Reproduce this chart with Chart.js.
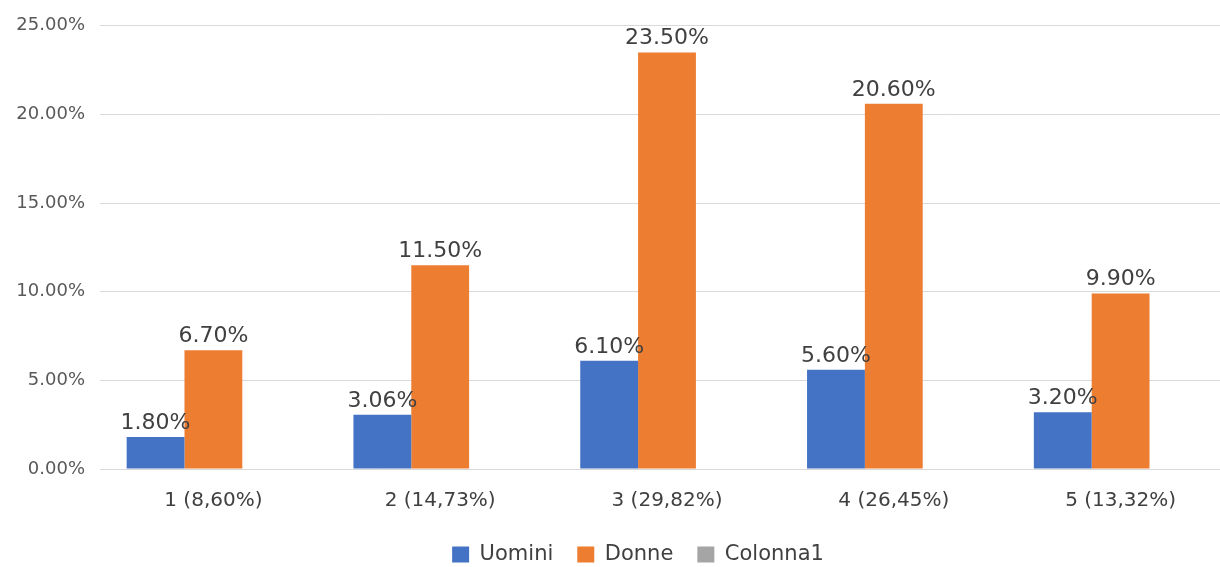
<!DOCTYPE html>
<html lang="it">
<head>
  <meta charset="UTF-8">
  <title>Uomini / Donne</title>
  <script src="https://cdn.jsdelivr.net/npm/chart.js"></script>
  <style>
    html, body { margin: 0; padding: 0; background: #fff; overflow: hidden; }
    #wrap { width: 1220px; height: 567px; overflow: hidden; }
  </style>
</head>
<body>
<div id="wrap"><canvas id="chart" width="1234" height="567"></canvas></div>
<script>
// dati
const categorie = ["1 (8,60%)", "2 (14,73%)", "3 (29,82%)", "4 (26,45%)", "5 (13,32%)"];
const uomini = [0.018, 0.0306, 0.061, 0.056, 0.032];
const donne = [0.067, 0.115, 0.235, 0.206, 0.099];
const colonna1 = [];
const tickValori = [0, 0.05, 0.10, 0.15, 0.20, 0.25];

const fmt = v => (v * 100).toFixed(2) + "%";
const FONT = "'DejaVu Sans', sans-serif";

// etichette sopra le barre
const etichette = {
  id: "etichette",
  afterDatasetsDraw(chart) {
    const ctx = chart.ctx;
    ctx.save();
    ctx.font = "22px " + FONT;
    ctx.fillStyle = "#404040";
    ctx.textAlign = "center";
    ctx.textBaseline = "alphabetic";
    chart.data.datasets.forEach((ds, i) => {
      const meta = chart.getDatasetMeta(i);
      meta.data.forEach((bar, j) => {
        const v = ds.data[j];
        if (v == null) return;
        ctx.fillText(fmt(v), bar.x, bar.y - 8);
      });
    });
    ctx.restore();
  }
};

// la legenda nell'originale è un po' spostata a destra e in basso
const spostaLegenda = {
  id: "spostaLegenda",
  afterLayout(chart) {
    const lg = chart.legend;
    lg.left += 21; lg.right += 21;
    lg.top += 8; lg.bottom += 8;
  }
};

new Chart(document.getElementById("chart").getContext("2d"), {
  type: "bar",
  data: {
    labels: categorie,
    datasets: [
      { label: "Uomini", data: uomini, backgroundColor: "#4472C4" },
      { label: "Donne", data: donne, backgroundColor: "#ED7D31" },
      { label: "Colonna1", data: colonna1, backgroundColor: "#A5A5A5" }
    ]
  },
  options: {
    responsive: false,
    animation: false,
    layout: { padding: { top: 22, right: 0, left: 0, bottom: 0 } },
    datasets: { bar: { categoryPercentage: 0.765, barPercentage: 1 } },
    scales: {
      x: {
        grid: { display: false },
        border: { color: "#d9d9d9" },
        ticks: { color: "#404040", font: { family: FONT, size: 20 }, padding: 12 },
        afterFit(s) { s.height = 43; }
      },
      y: {
        min: 0,
        max: 0.25,
        afterBuildTicks(s) { s.ticks = tickValori.map(v => ({ value: v })); },
        grid: { color: "#d9d9d9", drawTicks: false },
        border: { display: false },
        ticks: {
          color: "#595959",
          font: { family: FONT, size: 18 },
          padding: 15,
          callback: v => fmt(v)
        },
        afterFit(s) { s.width = 100; }
      }
    },
    plugins: {
      legend: {
        position: "bottom",
        labels: {
          color: "#404040",
          font: { family: FONT, size: 21 },
          boxWidth: 17,
          boxHeight: 16,
          padding: 24
        }
      },
      tooltip: { enabled: false }
    }
  },
  plugins: [etichette, spostaLegenda]
});
</script>
</body>
</html>
